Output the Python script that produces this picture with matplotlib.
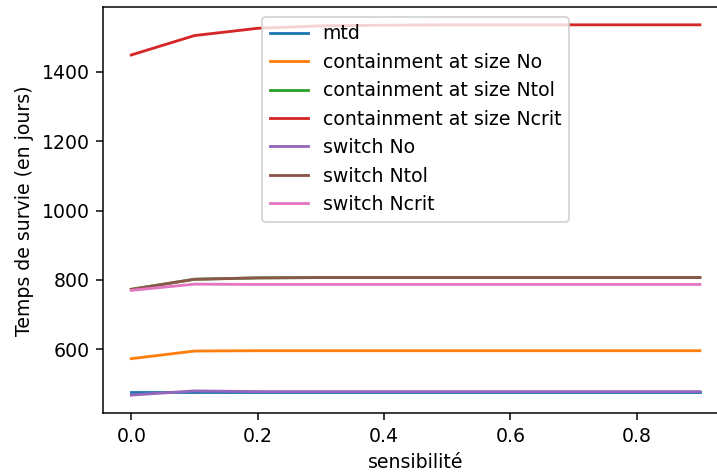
import numpy as np
import matplotlib
matplotlib.use("Agg")
import matplotlib.pyplot as plt

sens = [0.0, 0.1, 0.2, 0.3, 0.4, 0.5, 0.6, 0.7, 0.8, 0.9]

mtd = [478, 478, 478, 478, 478, 478, 478, 478, 478, 478]
cont_no = [573, 595, 596, 596, 596, 596, 596, 596, 596, 596]
cont_ntol = [773, 802, 806, 807, 807, 807, 807, 807, 807, 807]
cont_ncrit = [1449, 1505, 1526, 1533, 1535, 1536, 1536, 1536, 1536, 1536]
switch_no = [468, 480, 478, 478, 478, 478, 478, 478, 478, 478]
switch_ntol = [773, 802, 806, 807, 807, 807, 807, 807, 807, 807]
switch_ncrit = [770, 788, 787, 787, 787, 787, 787, 787, 787, 787]

series = [
    ("mtd", mtd),
    ("containment at size No", cont_no),
    ("containment at size Ntol", cont_ntol),
    ("containment at size Ncrit", cont_ncrit),
    ("switch No", switch_no),
    ("switch Ntol", switch_ntol),
    ("switch Ncrit", switch_ncrit),
]

# reference is an upscaled notebook figure, so render at a higher dpi
dpi = 136
fig = plt.figure(figsize=(717 / dpi, 473 / dpi), dpi=dpi)
# the original screenshot cuts the axes off on the right
ax = fig.add_axes([0.1434, 0.1262, 0.8724, 0.8584])

for name, vals in series:
    ax.plot(sens, vals, label=name)

ax.set_xlim(-0.045, 0.945)
ax.set_ylim(415.4, 1586.6)
ax.set_xticks([0.0, 0.2, 0.4, 0.6, 0.8])
ax.set_xlabel("sensibilité")
ax.set_ylabel("Temps de survie (en jours)")
ax.legend(loc="upper center")

fig.savefig("out.png", dpi=dpi)
